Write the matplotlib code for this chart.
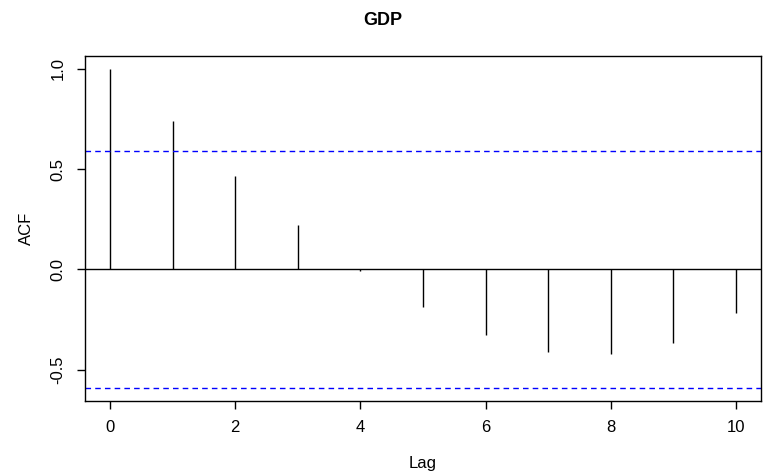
import numpy as np
import matplotlib.pyplot as plt

plt.rcParams['font.family'] = ['Liberation Sans', 'DejaVu Sans']

# значения ACF
lags = np.arange(0, 11)
acf = [1.0, 0.741, 0.467, 0.22, -0.007, -0.19, -0.327, -0.412, -0.422, -0.367, -0.22]
n_obs = 11
clim = 1.96 / np.sqrt(n_obs)

fig = plt.figure(figsize=(7.66, 4.73), dpi=100)
ax = fig.add_axes([0.111, 0.153, 0.8825, 0.7286])

ax.vlines(lags, 0, acf, color='black', lw=1)
ax.axhline(0, color='black', lw=1)
ax.axhline(clim, color='blue', lw=1, ls=(0, (4, 3)))
ax.axhline(-clim, color='blue', lw=1, ls=(0, (4, 3)))

ax.set_xlim(-0.4, 10.4)
ax.set_ylim(-0.655, 1.064)
ax.set_xticks([0, 2, 4, 6, 8, 10])
ax.set_yticks([-0.5, 0.0, 0.5, 1.0])
ax.set_yticklabels(['-0.5', '0.0', '0.5', '1.0'], rotation=90, va='center')
ax.tick_params(direction='out', length=6, width=1, labelsize=12, pad=8)
for s in ax.spines.values():
    s.set_linewidth(1)

ax.set_xlabel('Lag', fontsize=12, labelpad=15)
ax.set_ylabel('ACF', fontsize=12, labelpad=12)
fig.suptitle('GDP', fontsize=13, fontweight='bold', y=0.975)

fig.savefig('out.png', dpi=100)
